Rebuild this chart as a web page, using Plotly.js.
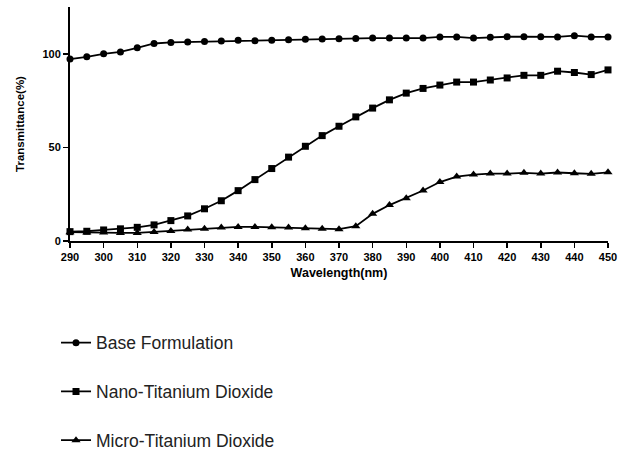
<!DOCTYPE html>
<html>
<head>
<meta charset="utf-8">
<script src="https://cdn.plot.ly/plotly-3.0.1.min.js"></script>
<style>html,body{margin:0;padding:0;background:#fff;}#chart{width:627px;height:452px;}</style>
</head>
<body>
<div id="chart"></div>
<script>
var wavelength = [290,295,300,305,310,315,320,325,330,335,340,345,350,355,360,365,370,375,380,385,390,395,400,405,410,415,420,425,430,435,440,445,450];
var baseFormulation = [97.2,98.4,100,101,103.2,105.5,106.1,106.3,106.6,106.8,107.2,107,107.3,107.5,107.8,107.9,108.1,108.2,108.4,108.4,108.4,108.4,109,109,108.4,108.8,109.1,109.1,109.1,109,109.7,109,109];
var nanoTiO2 = [5.0,5.2,5.9,6.5,7.3,8.6,10.9,13.4,17.2,21.5,26.9,32.8,38.7,44.8,50.6,56.3,61.3,66.3,71,75.4,79,81.5,83.3,84.9,84.9,86,87.1,88.5,88.5,90.7,90,88.9,91.4];
var microTiO2 = [4.7,4.5,4.5,4.3,4.3,4.8,5.4,6.1,6.6,7.2,7.5,7.5,7.3,7.2,6.8,6.5,6.3,7.9,14.5,19.2,22.9,27,31.5,34.4,35.5,36,36,36.4,36,36.6,36.2,35.9,36.7];
var seriesNames = ["Base Formulation","Nano-Titanium Dioxide","Micro-Titanium Dioxide"];
var xTicks = [290,300,310,320,330,340,350,360,370,380,390,400,410,420,430,440,450];
var yTicks = [0,50,100];

var symbols = ["circle","square","triangle-up"];
var ys = [baseFormulation, nanoTiO2, microTiO2];
var traces = ys.map(function(y, i){
  return {
    x: wavelength, y: y, name: seriesNames[i], type: "scatter", mode: "lines+markers",
    line: {color: "#000", width: 1.8},
    marker: {symbol: symbols[i], size: i===2 ? 8 : 7, color: "#000"},
    cliponaxis: false, legendgroup: "g"+i
  };
});

var layout = {
  width: 627, height: 452,
  margin: {l: 70, r: 19, t: 7, b: 211, autoexpand: false},
  paper_bgcolor: "#fff", plot_bgcolor: "#fff",
  font: {family: "Liberation Sans, Arial, sans-serif", color: "#000"},
  xaxis: {
    range: [290, 450], tickvals: xTicks, ticktext: xTicks.map(function(v){return "<b>"+v+"</b>";}),
    showgrid: false, zeroline: false, showline: true, linecolor: "#000", linewidth: 2,
    ticks: "outside", ticklen: 5, tickwidth: 1.5, tickcolor: "#000",
    tickfont: {size: 11, color: "#000"},
    title: {text: "<b>Wavelength(nm)</b>", font: {size: 12.5, color: "#000"}, standoff: 6}
  },
  yaxis: {
    range: [0, 125], tickvals: yTicks, ticktext: yTicks.map(function(v){return "<b>"+v+"</b>";}),
    showgrid: false, zeroline: false, showline: true, linecolor: "#000", linewidth: 2,
    ticks: "outside", ticklen: 5, tickwidth: 1.5, tickcolor: "#000",
    tickfont: {size: 11, color: "#000"},
    title: {text: "<b>Transmittance(%)</b>", font: {size: 11.5, color: "#000"}, standoff: 15}
  },
  showlegend: true,
  legend: {
    x: -0.026, xanchor: "left", y: -0.358, yanchor: "top",
    orientation: "v", font: {size: 17.5, color: "#222"}, tracegroupgap: 23,
    bgcolor: "rgba(0,0,0,0)", itemwidth: 30
  }
};

Plotly.newPlot("chart", traces, layout, {displayModeBar: false, staticPlot: true});
</script>
</body>
</html>
